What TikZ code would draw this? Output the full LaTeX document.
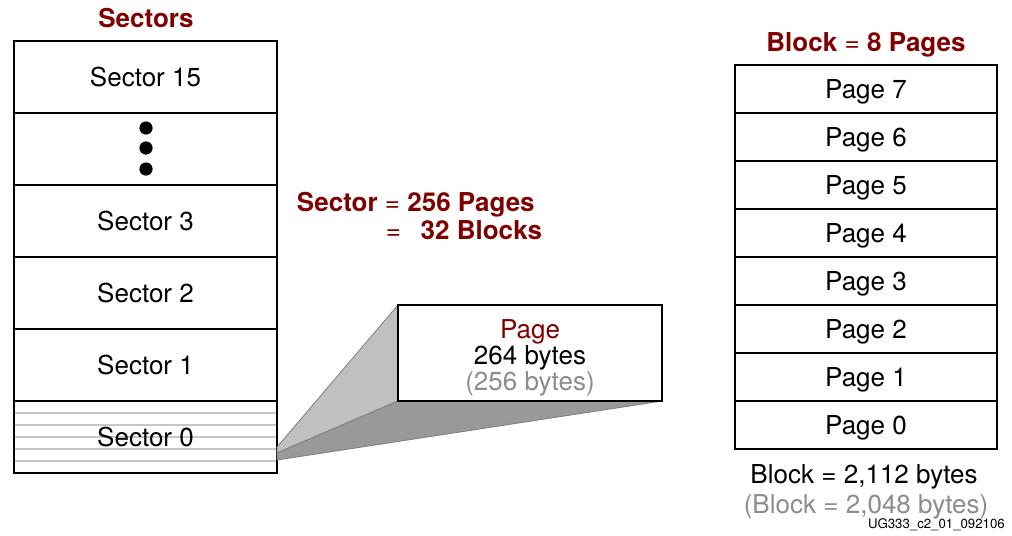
\documentclass[tikz,border=0pt]{standalone}
\usepackage{fontspec}
\setmainfont{TeX Gyre Heros}

\definecolor{xilred}{RGB}{128,0,0}
\definecolor{bytegray}{RGB}{140,140,140}
\definecolor{lightfan}{RGB}{192,192,192}
\definecolor{darkfan}{RGB}{153,153,153}
\definecolor{stripe}{RGB}{200,200,200}

\newcommand{\bigtext}{\fontsize{18.5}{18.5}\selectfont}

\tikzset{
  sector/.style={draw, line width=0.9pt, minimum width=6.575cm, minimum height=1.8cm, inner sep=0pt, outer sep=0pt, text depth=0pt, font=\bigtext},
  pagerow/.style={draw, line width=0.9pt, minimum width=6.55cm, minimum height=1.2cm, inner sep=0pt, outer sep=0pt, text depth=0pt, font=\bigtext},
  title/.style={text=xilred, text depth=0pt, font=\bigtext\bfseries},
  plain/.style={text depth=0pt, font=\bigtext},
}

\begin{document}
\begin{tikzpicture}[x=0.025cm, y=-0.025cm]
  \useasboundingbox (0,0) rectangle (1012,535);

  % sector column title
  \node [title] (sectitle) at (146,18) {Sectors};

  % sector rows
  \node [sector] (s15) at (145.5,77) {Sector 15};
  \node [sector] (sdots) at (145.5,149) {};
  \node [sector] (s3) at (145.5,221) {Sector 3};
  \node [sector] (s2) at (145.5,293) {Sector 2};
  \node [sector] (s1) at (145.5,365) {Sector 1};

  % stripes in sector 0
  \draw [stripe, line width=1pt] (14,413) -- (277,413);
  \draw [stripe, line width=1pt] (14,425) -- (277,425);
  \draw [stripe, line width=1pt] (14,437) -- (277,437);
  \draw [stripe, line width=1pt] (14,449) -- (277,449);
  \draw [stripe, line width=1pt] (14,461) -- (277,461);
  \node [sector] (s0) at (145.5,437) {Sector 0};

  % dots
  \fill (146,128) circle [radius=0.165cm];
  \fill (146,148) circle [radius=0.165cm];
  \fill (146,169) circle [radius=0.165cm];

  % outer border of sectors
  \draw [line width=2pt] (s15.north west) rectangle (s0.south east);

  % sector size
  \node [title, anchor=west] (secpages) at (292,202) {Sector {\mdseries =} 256 Pages};
  \node [title, anchor=west] (secblocks) at (381,230) {{\mdseries =}\hspace{0.75em}32 Blocks};

  % page box
  \node [draw, line width=2pt, fill=white, minimum width=6.6cm, minimum height=2.4cm,
         inner sep=0pt, outer sep=0pt] (page) at (530,353) {};
  \node [align=center, font=\bigtext] (pagetext) at (530,358)
        {\textcolor{xilred}{Page}\\264 bytes\\\textcolor{bytegray}{(256 bytes)}};

  % zoom from sector 0 to page
  \coordinate (apextop) at (277,447);
  \coordinate (apexmid) at (277,453);
  \coordinate (apexbot) at (277,460);
  \filldraw [fill=lightfan, draw=gray, line width=0.6pt]
    (apextop) -- (page.north west) -- (page.south west) -- (apexmid) -- cycle;
  \filldraw [fill=darkfan, draw=gray, line width=0.6pt]
    (apexmid) -- (page.south west) -- (page.south east) -- (apexbot) -- cycle;
  \draw [line width=2pt] (page.north west) rectangle (page.south east);

  % block column title
  \node [title] (blktitle) at (866,42) {Block {\mdseries =} 8 Pages};

  % page rows
  \foreach \i in {0,...,7}
    \node [pagerow] (p\i) at (866,{425-48*\i}) {Page \i};
  \draw [line width=2pt] (p7.north west) rectangle (p0.south east);

  % block size
  \node [plain] (blkbytes) at (864,474) {Block = 2,112 bytes};
  \node [plain, text=bytegray] (blkdata) at (866,504) {(Block = 2,048 bytes)};

  % figure id
  \node [anchor=east, font=\fontsize{9.4}{10}\selectfont, inner sep=0pt] (figid) at (1005,525) {UG333\_c2\_01\_092106};

\end{tikzpicture}
\end{document}
